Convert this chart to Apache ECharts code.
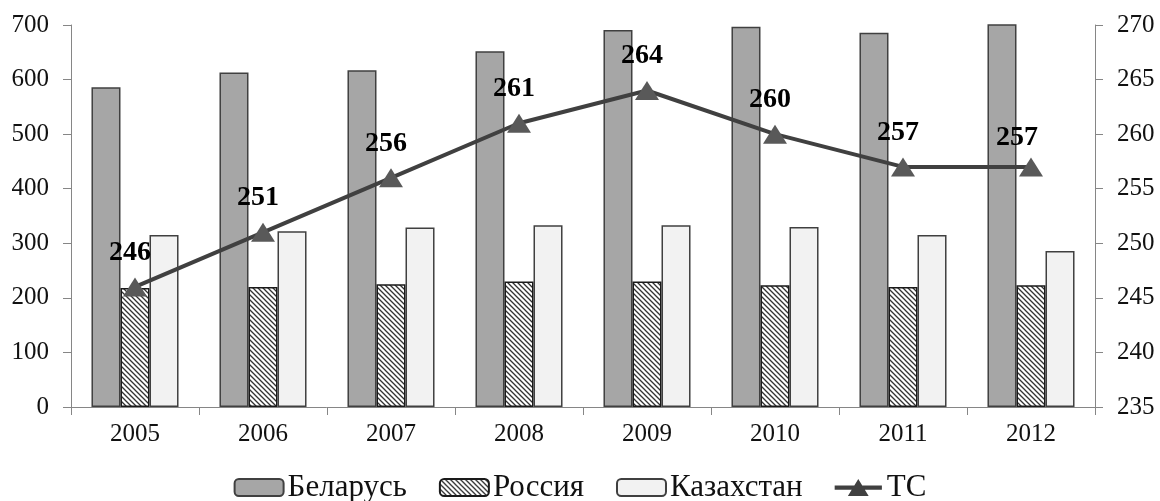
<!DOCTYPE html>
<html>
<head>
<meta charset="utf-8">
<script src="https://cdn.jsdelivr.net/npm/echarts@6/dist/echarts.min.js"></script>
<style>
html,body{margin:0;padding:0;background:#fff;}
#chart{width:1160px;height:501px;}
</style>
</head>
<body>
<div id="chart"></div>
<script>
const years = ['2005','2006','2007','2008','2009','2010','2011','2012'];
const belarus = [586, 613, 617, 652, 691, 697, 686, 705];
const russia = [218, 220, 225, 230, 230, 223, 220, 223];
const kazakhstan = [315, 322, 329, 333, 333, 330, 315, 286];
const ts = [246, 251, 256, 261, 264, 260, 257, 257];
const leftTicks = {min: 0, max: 700, interval: 100};
const rightTicks = {min: 235, max: 270, interval: 5};

// hatch pattern for Russia
const pc = document.createElement('canvas');
pc.width = 5; pc.height = 5;
const pctx = pc.getContext('2d');
pctx.fillStyle = '#ffffff';
pctx.fillRect(0, 0, 5, 5);
pctx.strokeStyle = '#333333';
pctx.lineWidth = 1.3;
pctx.beginPath();
pctx.moveTo(-1, -1); pctx.lineTo(6, 6);
pctx.moveTo(-1, 4); pctx.lineTo(1, 6);
pctx.moveTo(4, -1); pctx.lineTo(6, 1);
pctx.stroke();

const FONT = '"Liberation Serif", "Times New Roman", serif';
const axisGray = '#868686';
const tsIcon = 'path://M0,8L50,8L50,12.5L0,12.5Z M25,1L36,19L14,19Z';

const chart = echarts.init(document.getElementById('chart'), null, {renderer: 'canvas'});
chart.setOption({
  animation: false,
  backgroundColor: '#ffffff',
  textStyle: {fontFamily: FONT},
  grid: {left: 71, right: 65, top: 25, bottom: 94, containLabel: false},
  legend: {
    left: 'center', top: 472, padding: 0,
    itemWidth: 49, itemHeight: 17, itemGap: 32,
    textStyle: {fontFamily: FONT, fontSize: 31, color: '#111', padding: [0, 0, 0, -1]},
    data: ['Беларусь', 'Россия', 'Казахстан',
      {name: 'ТС', icon: tsIcon, itemStyle: {color: '#404040', borderWidth: 0}}]
  },
  xAxis: {
    type: 'category', data: years, boundaryGap: true,
    axisLine: {lineStyle: {color: axisGray, width: 1}},
    axisTick: {show: true, length: 8, lineStyle: {color: axisGray}},
    axisLabel: {fontFamily: FONT, fontSize: 25, color: '#111', margin: 15}
  },
  yAxis: [{
    type: 'value', min: leftTicks.min, max: leftTicks.max, interval: leftTicks.interval,
    splitLine: {show: false},
    axisLine: {show: true, lineStyle: {color: axisGray}},
    axisTick: {show: true, length: 8, lineStyle: {color: axisGray}},
    axisLabel: {fontFamily: FONT, fontSize: 25, color: '#111', margin: 22}
  }, {
    type: 'value', position: 'right', min: rightTicks.min, max: rightTicks.max, interval: rightTicks.interval,
    splitLine: {show: false},
    axisLine: {show: true, lineStyle: {color: axisGray}},
    axisTick: {show: true, length: 8, lineStyle: {color: axisGray}},
    axisLabel: {fontFamily: FONT, fontSize: 25, color: '#111', margin: 22}
  }],
  series: [{
    name: 'Беларусь', type: 'bar', data: belarus, barGap: '0%', barCategoryGap: '32%',
    clip: true,
    itemStyle: {color: '#a6a6a6', borderColor: '#404040', borderWidth: 1.5}
  }, {
    name: 'Россия', type: 'bar', data: russia,
    itemStyle: {color: {image: pc, repeat: 'repeat'}, borderColor: '#1a1a1a', borderWidth: 1.5}
  }, {
    name: 'Казахстан', type: 'bar', data: kazakhstan,
    itemStyle: {color: '#f2f2f2', borderColor: '#404040', borderWidth: 1.5}
  }, {
    name: 'ТС', type: 'line', yAxisIndex: 1, z: 5,
    data: ts.map((v, i) => i === 7 ? {value: v, label: {offset: [-14, -1]}} : v),
    symbol: 'triangle', symbolSize: [24, 19],
    lineStyle: {color: '#404040', width: 4},
    itemStyle: {color: '#595959'},
    label: {
      show: true, position: 'top', offset: [-5, -6],
      fontFamily: FONT, fontSize: 28, fontWeight: 'bold', color: '#000'
    }
  }]
});
</script>
</body>
</html>
